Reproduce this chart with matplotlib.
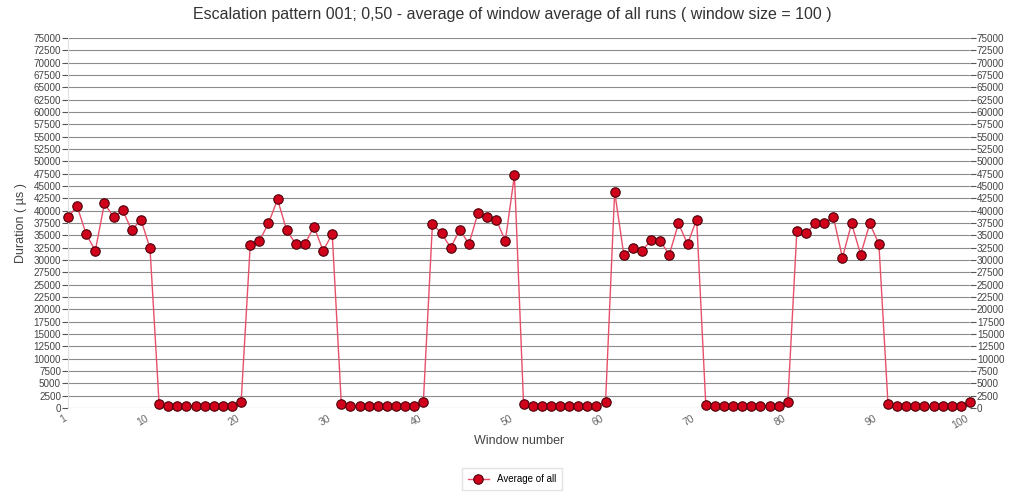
import numpy as np
import matplotlib.pyplot as plt

plt.rcParams['font.family'] = ['Liberation Sans', 'DejaVu Sans']

window = np.arange(1, 101)
low = [450] * 8
avg_all = ([38700, 40900, 35200, 31900, 41500, 38700, 40100, 36000, 38200, 32400,
            800] + low + [1150] +
           [33000, 33850, 37400, 42300, 36000, 33250, 33250, 36750, 31900, 35250,
            800] + low + [1150] +
           [37300, 35400, 32500, 36150, 33250, 39500, 38700, 38200, 33850, 47200,
            800] + low + [1150] +
           [43850, 31100, 32400, 31900, 34000, 33850, 31100, 37400, 33250, 38200,
            700] + low + [1150] +
           [35900, 35400, 37400, 37400, 38700, 30500, 37400, 31100, 37400, 33250,
            800] + low + [1150])

yticks = np.arange(0, 75001, 2500)
xticks = [1, 10, 20, 30, 40, 50, 60, 70, 80, 90, 100]

fig = plt.figure(figsize=(10.24, 4.93), dpi=100)
ax = fig.add_axes([68 / 1024, 1 - 408 / 493, 902 / 1024, 370 / 493])

ax.plot(window, avg_all, color='#e8506a', lw=1, marker='o', ms=6.8,
        mfc='#d0021b', mec='#4a0008', mew=0.8, clip_on=False, zorder=3,
        label='Average of all')

ax.set_xlim(1, 100)
ax.set_ylim(0, 75000)
ax.set_yticks(yticks)
ax.set_yticklabels([str(v) for v in yticks])
ax.set_xticks(xticks)
ax.set_xticklabels([str(v) for v in xticks], rotation=30, ha='right')
ax.grid(axis='y', color='#8c8c8c', lw=0.8)
ax.set_axisbelow(True)

for s in ['top', 'right', 'bottom']:
    ax.spines[s].set_visible(False)
ax.spines['left'].set_color('#e0e0e0')

ax.tick_params(axis='y', which='both', left=True, right=True, labelleft=True,
               labelright=True, length=4, color='#555555', labelsize=7.1,
               labelcolor='#444444', pad=1)
ax.tick_params(axis='x', length=0, labelsize=7.5, labelcolor='#666666', pad=4)

ax.set_xlabel('Window number', fontsize=9, color='#444444', labelpad=3)
ax.set_ylabel('Duration ( µs )', fontsize=9, color='#444444')
ax.yaxis.set_label_coords(-0.046, 0.5)
fig.suptitle('Escalation pattern 001; 0,50 - average of window average of all runs ( window size = 100 )',
             fontsize=11.5, color='#333333', y=0.985)

leg = fig.legend(loc='center', bbox_to_anchor=(512 / 1024, 1 - 479 / 493),
                 fontsize=7, frameon=True, fancybox=False, edgecolor='#dddddd',
                 handlelength=2.2, borderpad=0.6)

fig.savefig('out.png', dpi=100)
